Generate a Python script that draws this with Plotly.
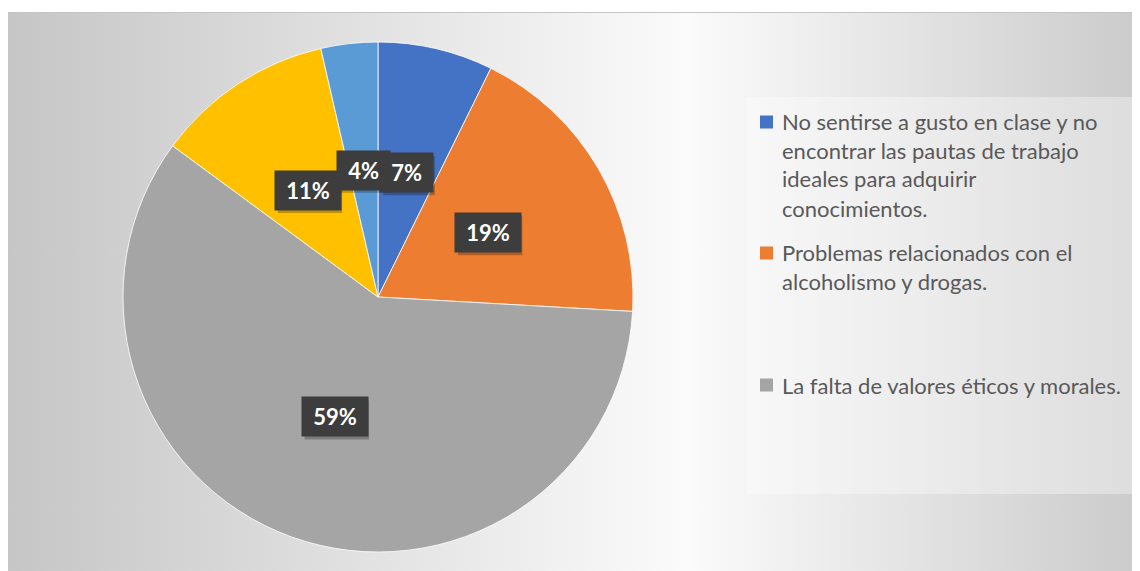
import base64
import math
import plotly.graph_objects as go

# ---------------- data ----------------
labels = [
    "No sentirse a gusto en clase y no encontrar las pautas de trabajo ideales para adquirir conocimientos.",
    "Problemas relacionados con el alcoholismo y drogas.",
    "La falta de valores éticos y morales.",
    "Categoría 4",
    "Categoría 5",
]
values = [7.3, 18.6, 59.2, 11.3, 3.6]
colors = ["#4472C4", "#ED7D31", "#A5A5A5", "#FFC000", "#5B9BD5"]
legend_lines = [
    ["No sentirse a gusto en clase y no", "encontrar las pautas de trabajo",
     "ideales para adquirir", "conocimientos."],
    ["Problemas relacionados con el", "alcoholismo y drogas."],
    ["La falta de valores éticos y morales."],
]

# ---------------- layout constants (px, page coords) ----------------
OFF = 8                      # page body margin
W, H = 1140 - OFF, 571 - OFF
CX, CY, R = 378 - OFF, 297 - OFF, 255
LABEL_R = 0.5
AREA_X0, AREA_Y0 = 6 - OFF, 12 - OFF
LBL_FONT = 22


def px2x(px):
    return px / W


def py2y(py):
    return 1 - py / H


fig = go.Figure()
fig.add_trace(go.Pie(
    labels=labels, values=values, sort=False, direction="clockwise", rotation=0,
    marker=dict(colors=colors, line=dict(color="white", width=0.8)),
    textinfo="none", showlegend=False, hoverinfo="label+percent",
    domain=dict(x=[px2x(CX - R), px2x(CX + R)], y=[py2y(CY + R), py2y(CY - R)]),
))

# background gradient via svg image
gx0 = max(AREA_X0, 0)
gw, gh = W - gx0, H - AREA_Y0
svg = (f'<svg xmlns="http://www.w3.org/2000/svg" width="{gw}" height="{gh}" '
       f'preserveAspectRatio="none" viewBox="0 0 {gw} {gh}">'
       '<defs><linearGradient id="g" x1="0" y1="0" x2="1" y2="0">'
       '<stop offset="0" stop-color="#c6c6c6"/>'
       '<stop offset="0.6" stop-color="#fbfbfb"/>'
       '<stop offset="1" stop-color="#cbcbcb"/>'
       '</linearGradient></defs>'
       f'<rect x="0" y="0" width="{gw}" height="{gh}" fill="url(#g)"/></svg>')
src = "data:image/svg+xml;base64," + base64.b64encode(svg.encode()).decode()
fig.add_layout_image(dict(source=src, xref="paper", yref="paper",
                          x=px2x(gx0), y=py2y(AREA_Y0), sizex=gw / W, sizey=gh / H,
                          xanchor="left", yanchor="top", sizing="stretch", layer="below"))

shapes = []
# chart border (top edge)
shapes.append(dict(type="line", xref="paper", yref="paper", x0=px2x(gx0), x1=1.0,
                   y0=py2y(AREA_Y0 + 0.5), y1=py2y(AREA_Y0 + 0.5),
                   line=dict(color="#c4c4c4", width=1), layer="below"))
# legend box
shapes.append(dict(type="rect", xref="paper", yref="paper", x0=px2x(747 - OFF), x1=px2x(1137 - OFF),
                   y0=py2y(494 - OFF), y1=py2y(97 - OFF), line=dict(width=0),
                   fillcolor="rgba(255,255,255,0.35)", layer="below"))

annotations = []
# data labels
total = sum(values)
cum = 0
pos = []
for v in values:
    th = 2 * math.pi * (cum + v / 2) / total
    px = CX + LABEL_R * R * math.sin(th)
    py = CY - LABEL_R * R * math.cos(th)
    pos.append((px, py, f"{round(v / total * 100):.0f}%"))
    cum += v

for i in [1, 2, 3, 4, 0]:
    px, py, t = pos[i]
    # soft drop shadow behind the label box
    ndig = len(t) - 1
    bw = 0.58 * LBL_FONT * ndig + 0.84 * LBL_FONT + 0.38 * LBL_FONT + 12
    bh = 39
    sx, sy = px + 2, py + 3
    shapes.append(dict(type="rect", xref="paper", yref="paper",
                       x0=px2x(sx - bw / 2), x1=px2x(sx + bw / 2),
                       y0=py2y(sy + bh / 2), y1=py2y(sy - bh / 2),
                       fillcolor="rgba(0,0,0,0.25)", line=dict(width=0), layer="above"))
    txt = "\u00a0" + t + "\u00a0"
    annotations.append(dict(x=px2x(px), y=py2y(py), xref="paper", yref="paper", text="<b>" + txt + "</b>",
                            showarrow=False, xanchor="center", yanchor="middle",
                            font=dict(family="Lato", size=LBL_FONT, color="white"),
                            bgcolor="#3d3d3d", borderpad=6))

# legend (manual)
line_y = [[122, 150, 179, 208], [253, 281], [385]]
for k, lines in enumerate(legend_lines):
    yc = line_y[k][0] - OFF
    shapes.append(dict(type="rect", xref="paper", yref="paper",
                       x0=px2x(760 - OFF), x1=px2x(773 - OFF),
                       y0=py2y(yc + 6.5), y1=py2y(yc - 6.5),
                       fillcolor=colors[k], line=dict(width=0)))
    for j, ln in enumerate(lines):
        annotations.append(dict(x=px2x(780 - OFF), y=py2y(line_y[k][j] - OFF), xref="paper", yref="paper",
                                xanchor="left", yanchor="middle", text=ln, showarrow=False,
                                font=dict(family="Lato", size=22, color="#595959")))

fig.update_layout(width=W, height=H, margin=dict(l=0, r=0, t=0, b=0),
                  paper_bgcolor="white", plot_bgcolor="white",
                  shapes=shapes, annotations=annotations, showlegend=False)
fig.write_html("out.html")
